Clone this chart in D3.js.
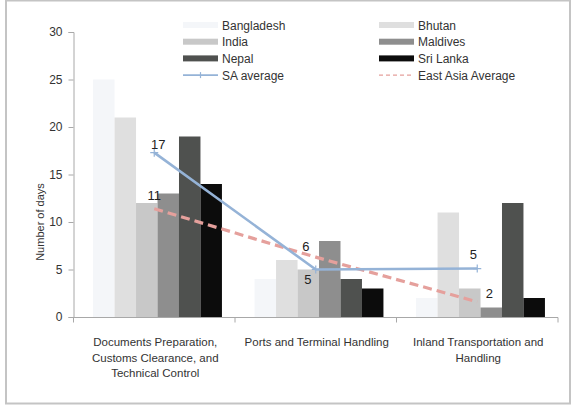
<!DOCTYPE html>
<html>
<head>
<meta charset="utf-8">
<script src="https://cdn.jsdelivr.net/npm/d3@7"></script>
<style>
  html, body { margin: 0; padding: 0; background: #fff; }
  svg { display: block; font-family: "Liberation Sans", Arial, sans-serif; }
</style>
</head>
<body>
<svg id="chart" width="572" height="407"></svg>
<script>
const categories = [
  ["Documents Preparation,", "Customs Clearance, and", "Technical Control"],
  ["Ports and Terminal Handling"],
  ["Inland Transportation and", "Handling"]
];
const countries = ["Bangladesh", "Bhutan", "India", "Maldives", "Nepal", "Sri Lanka"];
const bangladesh = [25, 4, 2];
const bhutan     = [21, 6, 11];
const india      = [12, 5, 3];
const maldives   = [13, 8, 1];
const nepal      = [19, 4, 12];
const sriLanka   = [14, 3, 2];
const saAverage  = [17.3, 5.0, 5.1];
const saLabels   = ["17", "5", "5"];
const eastAsiaAverage = [11.4, 6.3, 1.6];
const eaLabels   = ["11", "6", "2"];
const yTicks = [0, 5, 10, 15, 20, 25, 30];

const seriesValues = [bangladesh, bhutan, india, maldives, nepal, sriLanka];
const colors = ["#F4F6F9", "#DFDFDF", "#C8C8C8", "#8E8E8E", "#4F514F", "#0C0C0C"];

const svg = d3.select("#chart");

// outer frame
svg.append("rect").attr("x", 6).attr("y", 0.5).attr("width", 564).attr("height", 403)
  .attr("fill", "#fff").attr("stroke", "#C4C4C4").attr("stroke-width", 2);

const x0 = 73.5, x1 = 558, yTop = 32, yBot = 317;
const catIdx = categories.map((d, i) => i);
const xOuter = d3.scaleBand().domain(catIdx).range([x0, x1]).padding(0);
const xInner = d3.scaleBand().domain(countries).range([0, xOuter.bandwidth()])
  .paddingInner(0).paddingOuter(0.76).align(0.6);
const y = d3.scaleLinear().domain([0, 30]).range([yBot, yTop]);

// bars
countries.forEach((c, si) => {
  svg.append("g").selectAll("rect").data(seriesValues[si]).join("rect")
    .attr("x", (d, i) => xOuter(i) + xInner(c))
    .attr("width", xInner.bandwidth())
    .attr("y", d => y(d))
    .attr("height", d => y(0) - y(d))
    .attr("fill", colors[si]);
});

// y axis
const yAxis = d3.axisLeft(y).tickValues(yTicks).tickSize(5).tickPadding(6);
const gy = svg.append("g").attr("transform", `translate(${x0},0)`).call(yAxis);
gy.select(".domain").attr("stroke", "#A8A8A8");
gy.selectAll(".tick line").attr("stroke", "#A8A8A8");
gy.selectAll(".tick text").attr("fill", "#333").attr("font-size", 12)
  .attr("font-family", "Liberation Sans, Arial, sans-serif");

// x axis
const gx = svg.append("g").attr("transform", `translate(0,${yBot + 0.5})`);
gx.append("line").attr("x1", x0).attr("x2", x1).attr("stroke", "#A8A8A8");
gx.selectAll("line.tk").data([0, 1, 2, 3]).join("line").attr("class", "tk")
  .attr("x1", d => d < 3 ? xOuter(d) : x1).attr("x2", d => d < 3 ? xOuter(d) : x1)
  .attr("y1", 0).attr("y2", 5).attr("stroke", "#A8A8A8");

// category labels
categories.forEach((lines, i) => {
  const t = svg.append("text").attr("text-anchor", "middle")
    .attr("font-size", 11.5).attr("fill", "#333");
  lines.forEach((ln, j) => {
    t.append("tspan").attr("x", xOuter(i) + xOuter.bandwidth() / 2 + 1)
      .attr("y", 346 + j * 15.5).text(ln);
  });
});

// y title
svg.append("text").attr("transform", "translate(44,222) rotate(-90)")
  .attr("text-anchor", "middle").attr("font-size", 11).attr("fill", "#333")
  .text("Number of days");

const cx = i => xOuter(i) + xOuter.bandwidth() / 2;

// East Asia average dashed line
svg.append("path").datum(eastAsiaAverage)
  .attr("d", d3.line().x((d, i) => cx(i)).y(d => y(d)))
  .attr("fill", "none").attr("stroke", "#E5A09C").attr("stroke-width", 3.2)
  .attr("stroke-dasharray", "9,5");

// SA average line
svg.append("path").datum(saAverage)
  .attr("d", d3.line().x((d, i) => cx(i)).y(d => y(d)))
  .attr("fill", "none").attr("stroke", "#95B3D7").attr("stroke-width", 2.6);
svg.append("g").selectAll("path").data(saAverage).join("path")
  .attr("d", (d, i) => `M${cx(i) - 4},${y(d)}h8M${cx(i)},${y(d) - 4}v8`)
  .attr("stroke", "#95B3D7").attr("stroke-width", 1.2);

// data labels
const saOff = [[4, -4], [-8, 14], [-4, -10]];
svg.append("g").selectAll("text").data(saAverage).join("text")
  .attr("x", (d, i) => cx(i) + saOff[i][0]).attr("y", (d, i) => y(d) + saOff[i][1])
  .attr("text-anchor", "middle").attr("font-size", 13).attr("fill", "#222")
  .text((d, i) => saLabels[i]);
const eaOff = [[0, -9], [-10, -6], [12, -4]];
svg.append("g").selectAll("text").data(eastAsiaAverage).join("text")
  .attr("x", (d, i) => cx(i) + eaOff[i][0]).attr("y", (d, i) => y(d) + eaOff[i][1])
  .attr("text-anchor", "middle").attr("font-size", 13).attr("fill", "#222")
  .text((d, i) => eaLabels[i]);

// legend
const legendItems = [
  { name: "Bangladesh", type: "bar", color: colors[0] },
  { name: "Bhutan", type: "bar", color: colors[1] },
  { name: "India", type: "bar", color: colors[2] },
  { name: "Maldives", type: "bar", color: colors[3] },
  { name: "Nepal", type: "bar", color: colors[4] },
  { name: "Sri Lanka", type: "bar", color: colors[5] },
  { name: "SA average", type: "line" },
  { name: "East Asia Average", type: "dash" }
];
const lg = svg.append("g");
legendItems.forEach((it, k) => {
  const col = k % 2, row = Math.floor(k / 2);
  const lx = col === 0 ? 183 : 379, ly = 25 + row * 16.7;
  const g = lg.append("g").attr("transform", `translate(${lx},${ly})`);
  if (it.type === "bar") {
    g.append("rect").attr("x", 0).attr("y", -3).attr("width", 35).attr("height", 6).attr("fill", it.color);
  } else if (it.type === "line") {
    g.append("line").attr("x1", 0).attr("x2", 35).attr("stroke", "#95B3D7").attr("stroke-width", 1.6);
    g.append("path").attr("d", "M17.5,-3v6").attr("stroke", "#95B3D7").attr("stroke-width", 1.2);
  } else {
    g.append("line").attr("x1", 0).attr("x2", 35).attr("stroke", "#E5A09C").attr("stroke-width", 1.3)
      .attr("stroke-dasharray", "4,3");
  }
  g.append("text").attr("x", 39).attr("y", 4.5).attr("font-size", 12).attr("fill", "#333").text(it.name);
});
</script>
</body>
</html>
